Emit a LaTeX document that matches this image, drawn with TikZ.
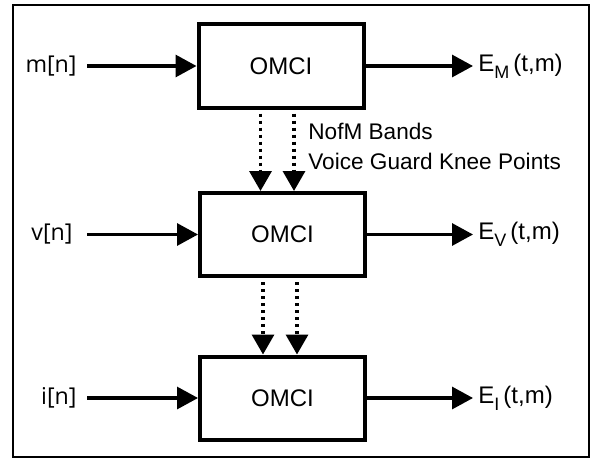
\documentclass[tikz,border=0pt]{standalone}
\usepackage{fontspec}
\setmainfont{Liberation Sans}
\newfontfamily\sigfont{Open Sans}
\usetikzlibrary{positioning,arrows.meta}
\newcommand{\esub}[1]{E\raisebox{-3.4pt}{\fontsize{9}{9}\selectfont #1}}

\begin{document}
\begin{tikzpicture}[x=0.5pt,y=-0.5pt,
    omci/.style={draw, line width=2pt, minimum width=82.5pt, minimum height=41.5pt, inner sep=0pt, font=\fontsize{12}{13}\selectfont},
    flow/.style={line width=1.6pt, -{Triangle[length=10.5pt,width=11pt]}},
    ctrl/.style={line width=1.7pt, dash pattern=on 1.7pt off 1.8pt, shorten <=2pt, -{Triangle[length=10pt,width=11pt]}},
    insig/.style={inner sep=0pt, font=\sigfont\fontsize{11.6}{13}\selectfont},
    outsig/.style={inner sep=0pt, font=\fontsize{12}{13}\selectfont}]
    \useasboundingbox (0,0) rectangle (592,460);
    \draw[line width=1.1pt] (13,5) rectangle (589,457);

    % processing blocks
    \node[omci] (omcim) at (281,66) {OMCI};
    \node[omci] (omciv) at (282.5,234.5) {OMCI};
    \node[omci] (omcii) at (282.5,398) {OMCI};

    % inputs
    \coordinate (inm) at (87,66);
    \coordinate (inv) at (87,234.5);
    \coordinate (ini) at (87,398);
    \node[insig, left=5pt of inm] (sigm) {m[n]};
    \node[insig, left=7pt of inv] (sigv) {v[n]};
    \node[insig, left=5pt of ini] (sigi) {i[n]};
    \draw[flow] (inm) -- (omcim);
    \draw[flow] (inv) -- (omciv);
    \draw[flow] (ini) -- (omcii);

    % outputs
    \coordinate (outm) at (473,66);
    \coordinate (outv) at (473,234.5);
    \coordinate (outi) at (473,398);
    \draw[flow] (omcim) -- (outm);
    \draw[flow] (omciv) -- (outv);
    \draw[flow] (omcii) -- (outi);
    \node[outsig, right=2.5pt of outm] (em) {\esub{M}\,(t,m)};
    \node[outsig, right=2.5pt of outv] (ev) {\esub{V}\,(t,m)};
    \node[outsig, right=2.5pt of outi] (ei) {\esub{I}\,(t,m)};

    % shared parameters
    \draw[ctrl] ([xshift=-10.25pt]omcim.south) -- ([xshift=-10.25pt]omcim.south |- omciv.north);
    \draw[ctrl] ([xshift=6.5pt]omcim.south) -- ([xshift=6.5pt]omcim.south |- omciv.north);
    \draw[ctrl] ([xshift=-9.75pt]omciv.south) -- ([xshift=-9.75pt]omciv.south |- omcii.north);
    \draw[ctrl] ([xshift=7.25pt]omciv.south) -- ([xshift=7.25pt]omciv.south |- omcii.north);
    \node[inner sep=0pt, anchor=north west, align=left, font=\fontsize{11.3}{15}\selectfont] (params) at (308,123) {NofM Bands\\Voice Guard Knee Points};
\end{tikzpicture}
\end{document}
